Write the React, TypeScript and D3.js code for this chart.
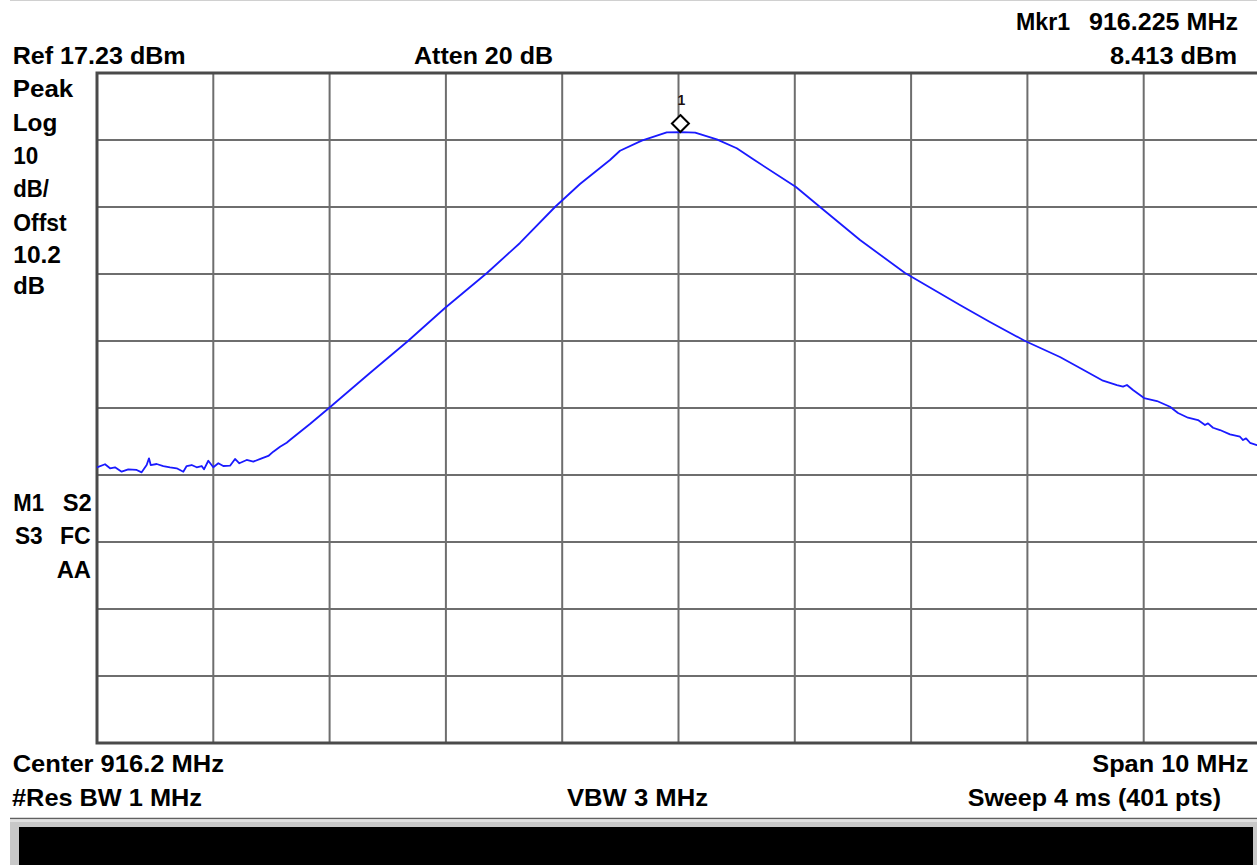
import React from 'react';
import * as d3 from 'd3';

// ---- instrument settings ----
const centerMHz = 916.2;
const spanMHz = 10;
const refLevelDbm = 17.23;
const dbPerDiv = 10;
const divisions = 10;

// ---- trace ----
const freqMHz = [
  911.2, 911.269, 911.312, 911.355, 911.412, 911.469, 911.541, 911.584, 911.627, 911.647,
  911.662, 911.713, 911.77, 911.828, 911.885, 911.942, 911.971, 912.014, 912.057, 912.1,
  912.12, 912.157, 912.2, 912.243, 912.286, 912.344, 912.387, 912.424, 912.487, 912.544,
  912.616, 912.673, 912.716, 912.774, 912.831, 912.859, 913.031, 913.195, 913.547, 913.874,
  914.192, 914.553, 914.837, 915.138, 915.353, 915.611, 915.697, 915.884, 916.099, 916.225,
  916.343, 916.529, 916.701, 916.843, 917.21, 917.417, 917.761, 918.148, 918.62, 918.878,
  919.18, 919.48, 919.652, 919.85, 919.97, 920.022, 920.056, 920.108, 920.203, 920.314,
  920.426, 920.495, 920.581, 920.667, 920.727, 920.753, 920.796, 920.856, 920.942, 921.028,
  921.054, 921.08, 921.114, 921.174, 921.2,
];
const levelDbm = [
  -41.62, -41.17, -41.77, -41.62, -42.28, -41.92, -42.02, -42.37, -41.28, -40.28,
  -41.28, -41.13, -41.43, -41.62, -41.77, -42.28, -41.43, -41.28, -41.62, -41.43,
  -41.92, -40.64, -41.62, -41.02, -41.43, -41.38, -40.38, -41.02, -40.53, -40.78,
  -40.28, -39.93, -39.29, -38.55, -37.95, -37.55, -35.16, -32.77, -27.55, -22.77,
  -17.84, -12.62, -8.14, -2.77, 0.66, 4.24, 5.63, 7.13, 8.38, 8.413,
  8.32, 7.33, 6.0, 4.35, 0.21, -2.77, -7.7, -12.62, -17.4, -19.93,
  -22.77, -25.16, -26.8, -28.7, -29.34, -29.59, -29.34, -30.09, -31.28, -31.73,
  -32.58, -33.52, -34.22, -34.57, -35.31, -35.06, -35.72, -36.06, -36.7, -37.06,
  -37.55, -37.3, -37.96, -38.31, -38.5,
];

const markerFreqMHz = 916.225;
const markerLevelDbm = 8.413;

const FONT = '"Liberation Sans", Arial, sans-serif';

function Label({ x, y, w, children, size = 24 }: { x: number; y: number; w: number; children: string; size?: number }) {
  return (
    <text
      x={x}
      y={y}
      textLength={w}
      lengthAdjust="spacingAndGlyphs"
      fontFamily={FONT}
      fontWeight="bold"
      fontSize={size}
      fill="#000"
    >
      {children}
    </text>
  );
}

export default function App() {
  const W = 1257;
  const H = 865;
  const x = d3
    .scaleLinear()
    .domain([centerMHz - spanMHz / 2, centerMHz + spanMHz / 2])
    .range([97, 1260]);
  const y = d3
    .scaleLinear()
    .domain([refLevelDbm, refLevelDbm - dbPerDiv * divisions])
    .range([73, 743]);

  const pts: [number, number][] = freqMHz.map((f, i) => [f, levelDbm[i]]);
  const line = d3
    .line<[number, number]>()
    .x((d) => x(d[0]))
    .y((d) => y(d[1]));

  const [f0, f1] = x.domain();
  const vLines = d3.range(0, divisions + 1).map((k) => f0 + ((f1 - f0) * k) / divisions);
  const hLines = d3.range(0, divisions + 1).map((k) => refLevelDbm - dbPerDiv * k);

  const mx = x(markerFreqMHz) - 1;
  const my = y(markerLevelDbm);

  const left = x.range()[0];
  const right = x.range()[1];
  const top = y.range()[0];
  const bottom = y.range()[1];

  return (
    <svg
      width={W}
      height={H}
      style={{ position: 'absolute', left: 0, top: 0, background: '#fff' }}
    >
      <rect x={0} y={0} width={W} height={H} fill="#fff" />
      {/* thin top line */}
      <line x1={10} x2={W} y1={0.5} y2={0.5} stroke="#d0d0d0" strokeWidth={1} />

      {/* grid */}
      {vLines.slice(1, -1).map((f, i) => (
        <line key={'v' + i} x1={x(f)} x2={x(f)} y1={top} y2={bottom} stroke="#6e6e6e" strokeWidth={2} />
      ))}
      {hLines.slice(1, -1).map((d, i) => (
        <line key={'h' + i} x1={left} x2={right} y1={y(d)} y2={y(d)} stroke="#6e6e6e" strokeWidth={2} />
      ))}
      <rect x={left} y={top} width={right - left} height={bottom - top} fill="none" stroke="#4a4a4a" strokeWidth={3} />

      {/* trace */}
      <path d={line(pts) || ''} fill="none" stroke="#1a1aff" strokeWidth={1.8} strokeLinejoin="round" />

      {/* marker */}
      <path
        d={`M${mx},${my - 17} L${mx + 8.5},${my - 8.5} L${mx},${my} L${mx - 8.5},${my - 8.5} Z`}
        fill="#fff"
        stroke="#000"
        strokeWidth={2}
      />
      <text x={mx + 1} y={my - 27} textAnchor="middle" fontFamily={FONT} fontWeight="bold" fontSize={14} fill="#201010">
        1
      </text>

      {/* header */}
      <Label x={1016} y={30} w={54}>Mkr1</Label>
      <Label x={1089} y={30} w={149}>916.225 MHz</Label>
      <Label x={12.7} y={64} w={173}>Ref 17.23 dBm</Label>
      <Label x={414} y={64} w={139}>Atten 20 dB</Label>
      <Label x={1110} y={64} w={127}>8.413 dBm</Label>

      {/* left column */}
      <Label x={12.7} y={97} w={60.6}>Peak</Label>
      <Label x={12.7} y={131} w={44.6}>Log</Label>
      <Label x={13.3} y={164} w={25}>10</Label>
      <Label x={13.3} y={197} w={35.7}>dB/</Label>
      <Label x={13.3} y={231} w={53.4}>Offst</Label>
      <Label x={13.3} y={263} w={47.7}>10.2</Label>
      <Label x={13.3} y={294} w={31.7}>dB</Label>

      <Label x={13.3} y={511} w={30.7}>M1</Label>
      <Label x={62.7} y={511} w={29}>S2</Label>
      <Label x={15} y={544} w={27.7}>S3</Label>
      <Label x={60} y={544} w={30.7}>FC</Label>
      <Label x={56.7} y={578} w={34.3}>AA</Label>

      {/* footer */}
      <Label x={12.7} y={772} w={211.3}>Center 916.2 MHz</Label>
      <Label x={1092.3} y={772} w={156}>Span 10 MHz</Label>
      <Label x={12} y={806} w={190}>#Res BW 1 MHz</Label>
      <Label x={567} y={806} w={141}>VBW 3 MHz</Label>
      <Label x={967.7} y={806} w={253.3}>Sweep 4 ms (401 pts)</Label>

      {/* status bar */}
      <line x1={10} x2={W} y1={818.5} y2={818.5} stroke="#606060" strokeWidth={1.5} />
      <rect x={10} y={820} width={W - 10} height={H - 820} fill="#c8c8c8" />
      <rect x={10} y={820} width={W - 10} height={2} fill="#e0e0e0" />
      <rect x={19} y={827} width={1234} height={H - 827} fill="#000" />
    </svg>
  );
}
